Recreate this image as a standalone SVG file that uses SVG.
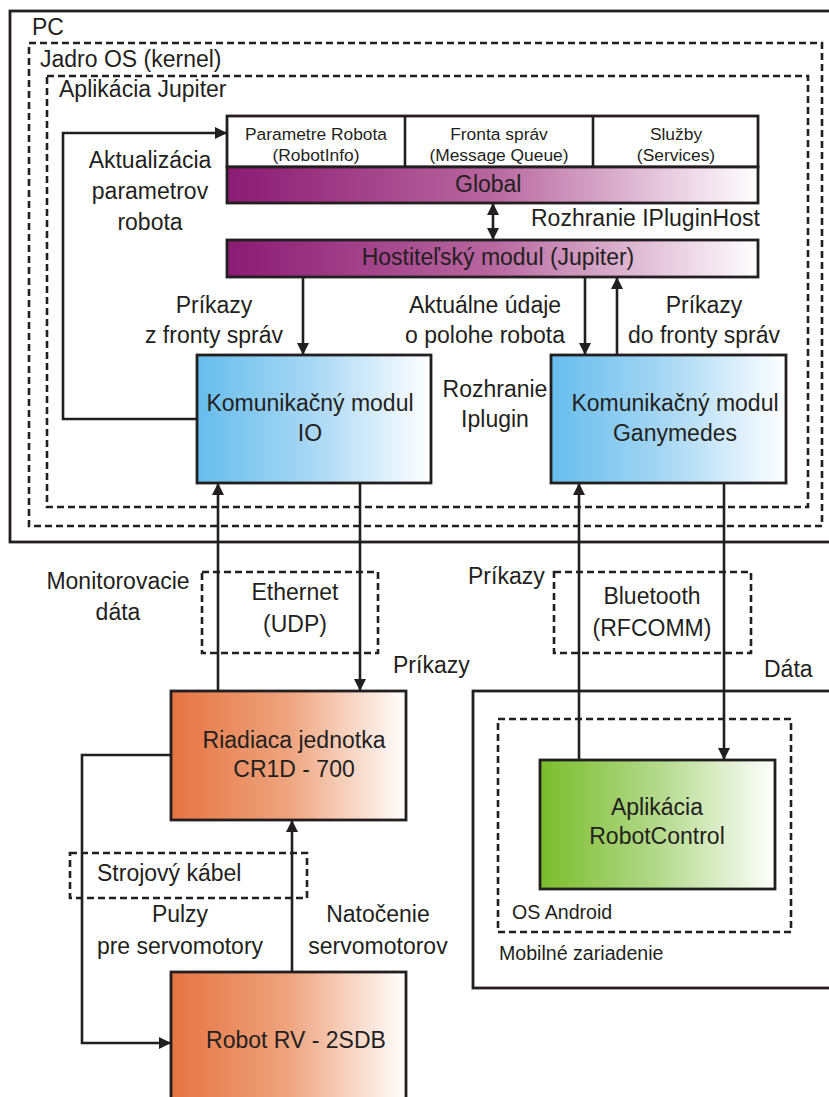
<svg xmlns="http://www.w3.org/2000/svg" width="829" height="1097" viewBox="0 0 829 1097">
<style>
text{font-family:"Liberation Sans",Arial,sans-serif;fill:#231f20;}
.l{font-size:23px;}
.s{font-size:17.4px;}
.m{font-size:19.6px;}
.c{text-anchor:middle;}
.box{stroke:#231f20;stroke-width:2.8;}
.solid{fill:none;stroke:#231f20;stroke-width:2.8;}
.dash{fill:none;stroke:#231f20;stroke-width:2.6;stroke-dasharray:7 4;}
.con{fill:none;stroke:#231f20;stroke-width:2.6;}
</style>
<defs>
<linearGradient id="gp" x1="0" y1="0" x2="1" y2="0"><stop offset="0" stop-color="#8b1b73"/><stop offset="0.5" stop-color="#b8679f"/><stop offset="1" stop-color="#ffffff"/></linearGradient>
<linearGradient id="gb" x1="0" y1="0" x2="1" y2="0"><stop offset="0" stop-color="#66bdec"/><stop offset="0.5" stop-color="#a9d8f4"/><stop offset="1" stop-color="#ffffff"/></linearGradient>
<linearGradient id="go" x1="0" y1="0" x2="1" y2="0"><stop offset="0" stop-color="#e67442"/><stop offset="0.5" stop-color="#eea47e"/><stop offset="1" stop-color="#ffffff"/></linearGradient>
<linearGradient id="gg" x1="0" y1="0" x2="1" y2="0"><stop offset="0" stop-color="#7abd2c"/><stop offset="0.5" stop-color="#b3d98a"/><stop offset="1" stop-color="#ffffff"/></linearGradient>
<marker id="ah" viewBox="0 0 12 12" refX="12" refY="6" markerWidth="12" markerHeight="12" markerUnits="userSpaceOnUse" orient="auto-start-reverse"><path d="M0,0 L12,6 L0,12 z" fill="#231f20"/></marker>
</defs>

<g id="pc"><rect class="solid" x="10" y="11" width="840" height="531"/><text class="l" x="32" y="35">PC</text></g>
<g id="kernel"><rect class="dash" x="29" y="43" width="793" height="483"/><text class="l" x="40" y="67">Jadro OS (kernel)</text></g>
<g id="jupiter"><rect class="dash" x="47" y="76" width="761" height="431"/><text class="l" x="59" y="97">Aplikácia Jupiter</text></g>

<g id="global">
<rect class="box" x="227" y="116" width="531" height="51" fill="#fff"/>
<line class="con" x1="405" y1="116" x2="405" y2="167"/>
<line class="con" x1="593" y1="116" x2="593" y2="167"/>
<text class="s c" x="316" y="140">Parametre Robota</text><text class="s c" x="316" y="161">(RobotInfo)</text>
<text class="s c" x="499" y="140">Fronta správ</text><text class="s c" x="499" y="161">(Message Queue)</text>
<text class="s c" x="676" y="140">Služby</text><text class="s c" x="676" y="161">(Services)</text>
<rect class="box" x="227" y="167" width="531" height="36" fill="url(#gp)"/>
<text class="l" x="455" y="192">Global</text>
</g>

<g id="host"><rect class="box" x="227" y="240" width="531" height="37" fill="url(#gp)"/><text class="l c" x="498" y="265">Hostiteľský modul (Jupiter)</text></g>

<g id="io"><rect class="box" x="197" y="355" width="234" height="128" fill="url(#gb)"/><text class="l c" x="310" y="411">Komunikačný modul</text><text class="l c" x="310" y="441">IO</text></g>
<g id="ganymedes"><rect class="box" x="551" y="355" width="235" height="128" fill="url(#gb)"/><text class="l c" x="675" y="411">Komunikačný modul</text><text class="l c" x="675" y="441">Ganymedes</text></g>

<g id="ethernet"><rect class="dash" x="202" y="572" width="176" height="81"/><text class="l c" x="295" y="600">Ethernet</text><text class="l c" x="295" y="632">(UDP)</text></g>
<g id="bluetooth"><rect class="dash" x="554" y="572" width="197" height="81"/><text class="l c" x="652" y="604">Bluetooth</text><text class="l c" x="652" y="636">(RFCOMM)</text></g>

<g id="riadiaca"><rect class="box" x="171" y="691" width="235" height="129" fill="url(#go)"/><text class="l c" x="294" y="748">Riadiaca jednotka</text><text class="l c" x="294" y="777">CR1D - 700</text></g>

<g id="mobile"><rect class="solid" x="473" y="691" width="400" height="297"/><text class="m" x="499" y="960">Mobilné zariadenie</text></g>
<g id="android"><rect class="dash" x="498" y="719" width="293" height="213"/><text class="m" x="512" y="919">OS Android</text></g>
<g id="robotcontrol"><rect class="box" x="540" y="760" width="235" height="129" fill="url(#gg)"/><text class="l c" x="657" y="815">Aplikácia</text><text class="l c" x="657" y="844">RobotControl</text></g>

<g id="kabel"><rect class="dash" x="70" y="853" width="237" height="45"/><text class="l" x="97" y="881">Strojový kábel</text></g>

<g id="robot"><rect class="box" x="171" y="972" width="235" height="200" fill="url(#go)"/><text class="l c" x="296" y="1048">Robot RV - 2SDB</text></g>

<g id="connectors">
<path class="con" d="M197,419 H63 V133 H227" marker-end="url(#ah)"/>
<path class="con" d="M493,203 V240" marker-start="url(#ah)" marker-end="url(#ah)"/>
<path class="con" d="M303,277 V355" marker-end="url(#ah)"/>
<path class="con" d="M585,277 V355" marker-end="url(#ah)"/>
<path class="con" d="M617,355 V277" marker-end="url(#ah)"/>
<path class="con" d="M218,691 V483" marker-end="url(#ah)"/>
<path class="con" d="M360,483 V691" marker-end="url(#ah)"/>
<path class="con" d="M579,760 V483" marker-end="url(#ah)"/>
<path class="con" d="M724,483 V760" marker-end="url(#ah)"/>
<path class="con" d="M292,972 V820" marker-end="url(#ah)"/>
<path class="con" d="M171,755 H82 V1043 H171" marker-end="url(#ah)"/>
</g>

<g id="labels">
<text class="l c" x="150" y="168">Aktualizácia</text>
<text class="l c" x="150" y="199">parametrov</text>
<text class="l c" x="150" y="230">robota</text>
<text class="l" x="531" y="226">Rozhranie IPluginHost</text>
<text class="l c" x="214" y="313">Príkazy</text>
<text class="l c" x="214" y="343">z fronty správ</text>
<text class="l c" x="485" y="313">Aktuálne údaje</text>
<text class="l c" x="485" y="343">o polohe robota</text>
<text class="l c" x="704" y="313">Príkazy</text>
<text class="l c" x="704" y="343">do fronty správ</text>
<text class="l c" x="495" y="397">Rozhranie</text>
<text class="l c" x="495" y="427">Iplugin</text>
<text class="l c" x="118" y="589">Monitorovacie</text>
<text class="l c" x="118" y="620">dáta</text>
<text class="l" x="393" y="673">Príkazy</text>
<text class="l" x="468" y="584">Príkazy</text>
<text class="l" x="764" y="677">Dáta</text>
<text class="l c" x="180" y="922">Pulzy</text>
<text class="l c" x="180" y="954">pre servomotory</text>
<text class="l c" x="378" y="922">Natočenie</text>
<text class="l c" x="378" y="954">servomotorov</text>
</g>
</svg>
